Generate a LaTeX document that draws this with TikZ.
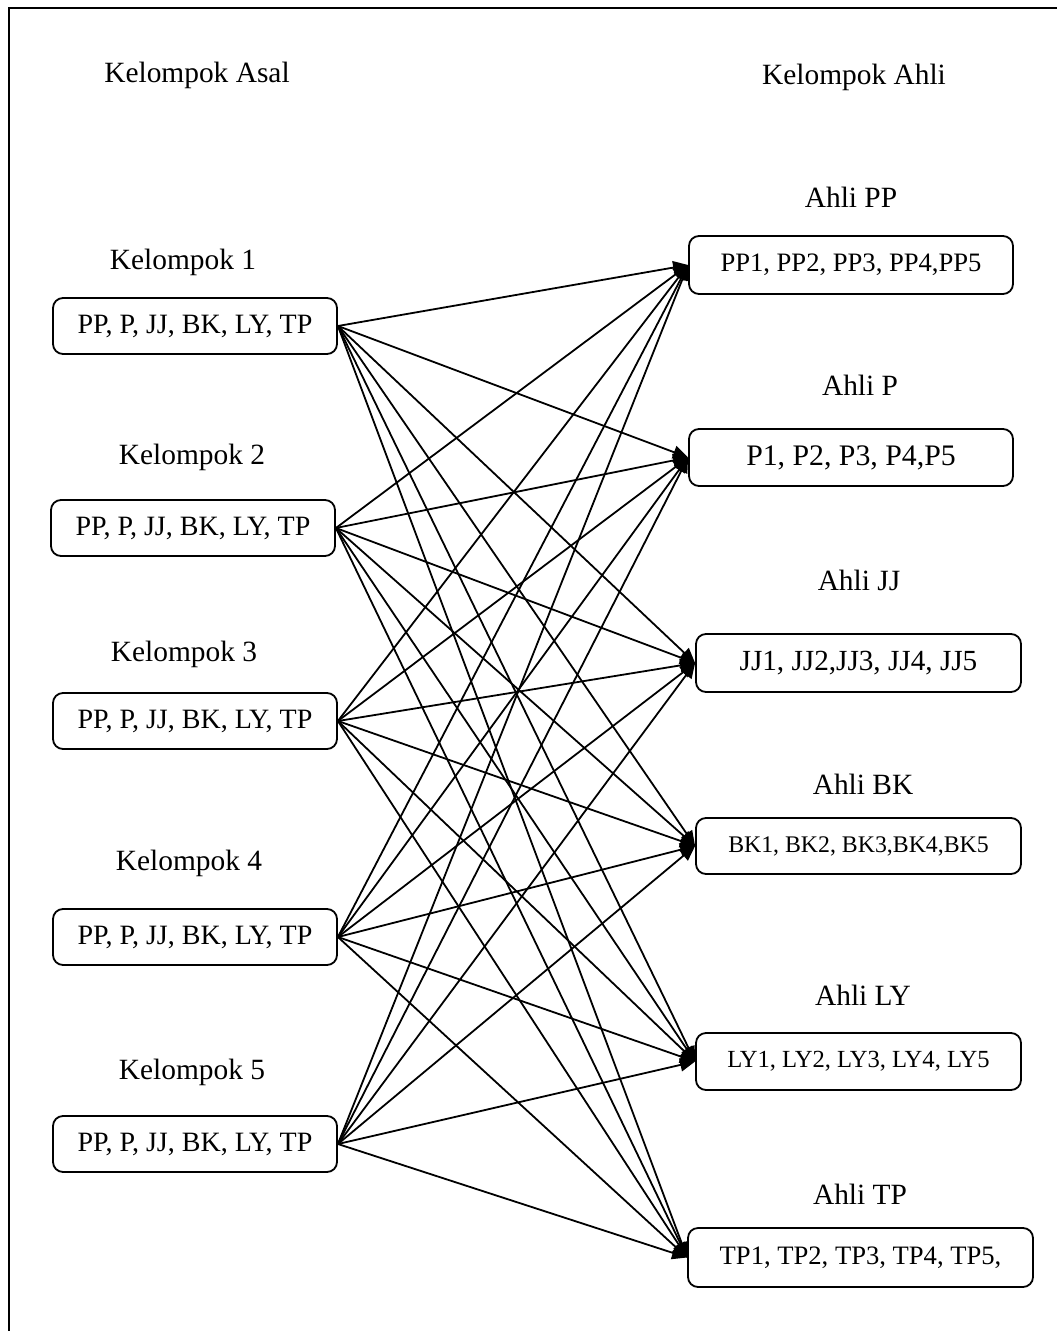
\documentclass[tikz,border=0pt]{standalone}
\usepackage{fontspec}
\setmainfont{Liberation Serif}
\usetikzlibrary{arrows.meta}

\tikzset{
  kotak/.style={draw, rounded corners=5pt, line width=0.9pt, inner sep=0pt},
  judul/.style={font=\fontsize{14.7}{17}\selectfont},
  panah/.style={-{Triangle[length=7.5pt,width=6.5pt]}, line width=0.9pt},
}

\begin{document}
\begin{tikzpicture}[x=0.5pt,y=-0.5pt]
\useasboundingbox (0,0) rectangle (1057,1331);
\draw[line width=1.2pt] (9,1331) -- (9,8) -- (1057,8);

\node[judul] (asal) at (197,75) {Kelompok Asal};
\node[judul] (ahli) at (854,77) {Kelompok Ahli};

% kelompok asal
\node[judul] (lblA1) at (183,262) {Kelompok 1};
\node[judul] (lblA2) at (192,457) {Kelompok 2};
\node[judul] (lblA3) at (184,654) {Kelompok 3};
\node[judul] (lblA4) at (189,863) {Kelompok 4};
\node[judul] (lblA5) at (192,1072) {Kelompok 5};

\begin{scope}[every node/.style={kotak, minimum width=142pt, minimum height=28pt,
  font=\fontsize{14}{16}\selectfont}]
\node (asal1) at (195,326) {PP, P, JJ, BK, LY, TP};
\node (asal2) at (193,528) {PP, P, JJ, BK, LY, TP};
\node (asal3) at (195,721) {PP, P, JJ, BK, LY, TP};
\node (asal4) at (195,937) {PP, P, JJ, BK, LY, TP};
\node (asal5) at (195,1144) {PP, P, JJ, BK, LY, TP};
\end{scope}

% kelompok ahli
\node[judul] (lblB1) at (851,197) {Ahli PP};
\node[judul] (lblB2) at (860,385) {Ahli P};
\node[judul] (lblB3) at (859,580) {Ahli JJ};
\node[judul] (lblB4) at (863,784) {Ahli BK};
\node[judul] (lblB5) at (863,995) {Ahli LY};
\node[judul] (lblB6) at (860,1194) {Ahli TP};

\node[kotak, minimum width=162pt, minimum height=29pt, font=\fontsize{13.3}{15}\selectfont]
  (ahli1) at (851,265) {PP1, PP2, PP3, PP4,PP5};
\node[kotak, minimum width=162pt, minimum height=28.5pt, font=\fontsize{14.9}{17}\selectfont]
  (ahli2) at (851,457.5) {P1, P2, P3, P4,P5};
\node[kotak, minimum width=162.5pt, minimum height=29pt, font=\fontsize{14.6}{17}\selectfont]
  (ahli3) at (858.5,663) {JJ1, JJ2,JJ3, JJ4, JJ5};
\node[kotak, minimum width=162.5pt, minimum height=28pt, font=\fontsize{11.9}{14}\selectfont]
  (ahli4) at (858.5,846) {BK1, BK2, BK3,BK4,BK5};
\node[kotak, minimum width=162.5pt, minimum height=28.5pt, font=\fontsize{12.3}{14}\selectfont]
  (ahli5) at (858.5,1061.5) {LY1, LY2, LY3, LY4, LY5};
\node[kotak, minimum width=172.5pt, minimum height=29.5pt, font=\fontsize{13.3}{15}\selectfont]
  (ahli6) at (860.5,1257.5) {TP1, TP2, TP3, TP4, TP5,};

% panah dari setiap kelompok asal ke setiap kelompok ahli
\foreach \i in {1,...,5}
  \foreach \j in {1,...,6}
    \draw[panah] (asal\i.east) -- (ahli\j.west);

\end{tikzpicture}
\end{document}
